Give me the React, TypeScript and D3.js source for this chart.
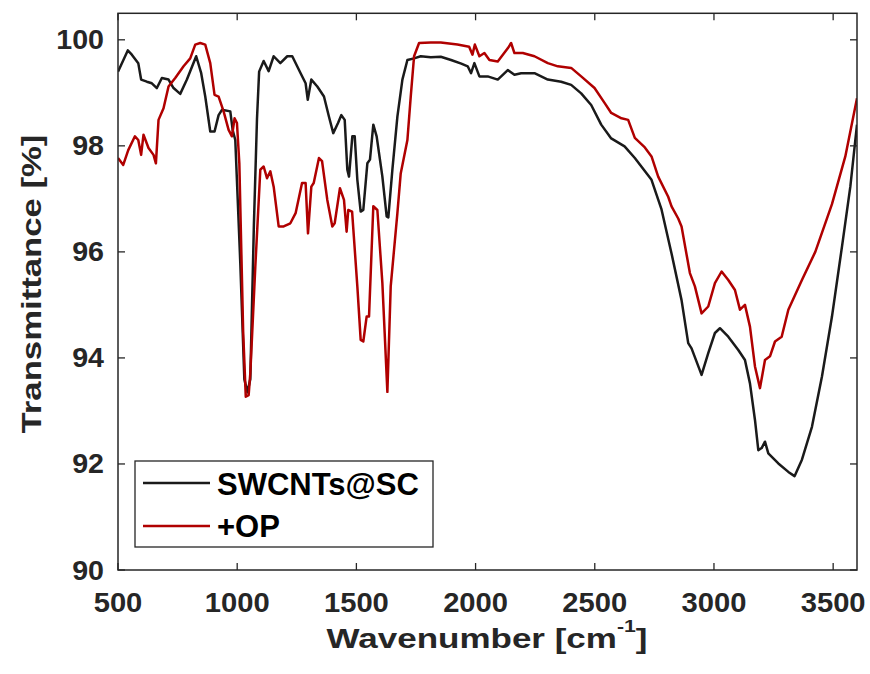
import React from "react";
import * as d3 from "d3";

const blackWave = [500, 541, 558, 585, 597, 621, 642, 663, 684, 712, 733, 761, 789, 828, 849, 866, 887, 905, 922, 936, 971, 981, 992, 1013, 1030, 1043, 1055, 1070, 1083, 1092, 1111, 1132, 1153, 1181, 1210, 1231, 1266, 1287, 1296, 1311, 1336, 1364, 1385, 1403, 1423, 1437, 1451, 1462, 1469, 1483, 1493, 1504, 1518, 1529, 1546, 1557, 1571, 1585, 1609, 1627, 1634, 1651, 1672, 1693, 1714, 1742, 1770, 1812, 1854, 1897, 1940, 1967, 1981, 1995, 2016, 2051, 2093, 2135, 2163, 2191, 2247, 2303, 2359, 2401, 2443, 2485, 2527, 2569, 2625, 2668, 2738, 2780, 2822, 2864, 2892, 2906, 2948, 2976, 3004, 3025, 3060, 3102, 3130, 3151, 3172, 3186, 3200, 3214, 3228, 3270, 3312, 3338, 3369, 3411, 3453, 3495, 3537, 3572, 3600];
const blackT = [99.40, 99.80, 99.72, 99.56, 99.25, 99.21, 99.18, 99.09, 99.28, 99.25, 99.09, 98.98, 99.25, 99.69, 99.37, 98.93, 98.27, 98.27, 98.58, 98.68, 98.65, 98.30, 98.11, 95.79, 93.6, 93.35, 93.6, 96.5, 98.5, 99.4, 99.60, 99.41, 99.69, 99.56, 99.69, 99.69, 99.37, 99.18, 98.87, 99.25, 99.12, 98.93, 98.55, 98.24, 98.43, 98.58, 98.49, 97.55, 97.42, 98.18, 98.18, 97.36, 96.76, 96.79, 97.67, 97.74, 98.40, 98.18, 97.42, 96.67, 96.65, 97.55, 98.55, 99.25, 99.62, 99.65, 99.69, 99.67, 99.68, 99.62, 99.55, 99.50, 99.37, 99.56, 99.31, 99.31, 99.25, 99.43, 99.34, 99.37, 99.37, 99.25, 99.21, 99.15, 98.99, 98.77, 98.40, 98.14, 97.99, 97.77, 97.36, 96.80, 95.97, 95.09, 94.28, 94.18, 93.68, 94.09, 94.47, 94.56, 94.40, 94.15, 93.96, 93.52, 92.83, 92.26, 92.30, 92.42, 92.20, 92.01, 91.85, 91.77, 92.08, 92.70, 93.65, 94.78, 96.10, 97.23, 98.40];

const redWave = [500, 522, 543, 571, 585, 597, 607, 628, 649, 659, 670, 691, 712, 740, 775, 803, 824, 845, 866, 887, 905, 922, 943, 964, 978, 989, 999, 1009, 1025, 1036, 1048, 1055, 1076, 1097, 1111, 1125, 1139, 1153, 1174, 1195, 1223, 1245, 1272, 1287, 1297, 1311, 1321, 1343, 1356, 1378, 1399, 1409, 1431, 1448, 1459, 1466, 1482, 1504, 1518, 1529, 1543, 1553, 1571, 1588, 1609, 1630, 1644, 1672, 1686, 1714, 1728, 1742, 1763, 1812, 1854, 1924, 1973, 1987, 1997, 2016, 2037, 2058, 2093, 2135, 2149, 2163, 2198, 2247, 2303, 2345, 2401, 2443, 2499, 2541, 2569, 2612, 2640, 2668, 2710, 2738, 2766, 2808, 2822, 2850, 2864, 2899, 2920, 2948, 2976, 3004, 3032, 3060, 3088, 3109, 3130, 3151, 3172, 3193, 3214, 3235, 3256, 3284, 3312, 3369, 3425, 3495, 3551, 3600];
const redT = [97.77, 97.64, 97.92, 98.18, 98.11, 97.83, 98.21, 97.96, 97.83, 97.67, 98.49, 98.71, 99.12, 99.28, 99.50, 99.65, 99.91, 99.94, 99.91, 99.56, 98.96, 98.93, 98.65, 98.30, 98.18, 98.52, 98.43, 97.67, 94.5, 93.27, 93.30, 93.71, 95.72, 97.55, 97.61, 97.39, 97.52, 97.23, 96.48, 96.48, 96.54, 96.73, 97.30, 97.30, 96.35, 97.23, 97.30, 97.77, 97.71, 96.98, 96.48, 96.54, 97.20, 96.98, 96.38, 96.79, 96.76, 95.35, 94.34, 94.31, 94.78, 94.78, 96.86, 96.79, 95.41, 93.36, 95.35, 96.73, 97.48, 98.11, 98.93, 99.69, 99.94, 99.95, 99.95, 99.91, 99.87, 99.72, 99.91, 99.69, 99.75, 99.62, 99.59, 99.84, 99.94, 99.75, 99.75, 99.69, 99.56, 99.50, 99.47, 99.31, 99.09, 98.81, 98.62, 98.52, 98.49, 98.15, 97.97, 97.80, 97.42, 97.04, 96.86, 96.63, 96.48, 95.60, 95.35, 94.84, 94.97, 95.41, 95.63, 95.47, 95.28, 94.91, 95.00, 94.59, 93.84, 93.43, 93.96, 94.03, 94.31, 94.40, 94.91, 95.47, 96.0, 96.9, 97.8, 98.9];

const xTicks = [500, 1000, 1500, 2000, 2500, 3000, 3500];
const yTicks = [90, 92, 94, 96, 98, 100];
const seriesNames = ["SWCNTs@SC", "+OP"];
const seriesColors = ["#1a1a1a", "#b00000"];

const L = 118, R = 857, T = 13.3, B = 570;
const FONT = "'Liberation Sans', Arial, Helvetica, sans-serif";
const AX = "#262626";

export default function App() {
  const x = d3.scaleLinear().domain([500, 3600]).range([L, R]);
  const y = d3.scaleLinear().domain([90, 100.5]).range([B, T]);
  const line = d3
    .line<[number, number]>()
    .x((d) => x(d[0]))
    .y((d) => y(d[1]));
  const black = blackWave.map((w, i) => [w, blackT[i]] as [number, number]);
  const red = redWave.map((w, i) => [w, redT[i]] as [number, number]);
  const tick = 7;
  return (
    <svg width={870} height={674} style={{ position: "absolute", left: 0, top: 0, background: "#fff" }}>
      <defs>
        <clipPath id="plot">
          <rect x={L} y={T} width={R - L} height={B - T} />
        </clipPath>
      </defs>
      <rect x={0} y={0} width={870} height={674} fill="#fff" />
      <g clipPath="url(#plot)" fill="none" strokeWidth={2.5} strokeLinejoin="round">
        <path d={line(black) || ""} stroke={seriesColors[0]} />
        <path d={line(red) || ""} stroke={seriesColors[1]} />
      </g>
      {/* frame */}
      <rect x={L} y={T} width={R - L} height={B - T} fill="none" stroke={AX} strokeWidth={1.5} />
      {xTicks.map((t) => (
        <g key={"xt" + t}>
          <line x1={x(t)} x2={x(t)} y1={B} y2={B - tick} stroke={AX} strokeWidth={1.3} />
          <line x1={x(t)} x2={x(t)} y1={T} y2={T + tick} stroke={AX} strokeWidth={1.3} />
          <text
            transform={`translate(${x(t)},612) scale(1.08,1)`}
            textAnchor="middle"
            fontFamily={FONT}
            fontWeight="bold"
            fontSize={27}
            fill={AX}
          >
            {t}
          </text>
        </g>
      ))}
      {yTicks.map((t) => (
        <g key={"yt" + t}>
          <line x1={L} x2={L + tick} y1={y(t)} y2={y(t)} stroke={AX} strokeWidth={1.3} />
          <line x1={R} x2={R - tick} y1={y(t)} y2={y(t)} stroke={AX} strokeWidth={1.3} />
          <text
            transform={`translate(104,${y(t) + 9.5}) scale(1.06,1)`}
            textAnchor="end"
            fontFamily={FONT}
            fontWeight="bold"
            fontSize={27}
            fill={AX}
          >
            {t}
          </text>
        </g>
      ))}
      {/* axis labels */}
      <text
        transform="translate(41,284) rotate(-90) scale(1.24,1)"
        textAnchor="middle"
        fontFamily={FONT}
        fontWeight="bold"
        fontSize={28}
        fill={AX}
      >
        Transmittance [%]
      </text>
      <text
        transform="translate(487,648) scale(1.25,1)"
        textAnchor="middle"
        fontFamily={FONT}
        fontWeight="bold"
        fontSize={28}
        fill={AX}
      >
        Wavenumber [cm
        <tspan fontSize={17} dy={-16}>-1</tspan>
        <tspan dy={16}>]</tspan>
      </text>
      {/* legend */}
      <rect x={135} y={461} width={298} height={86} fill="#fff" stroke={AX} strokeWidth={1.3} />
      {seriesNames.map((n, i) => (
        <g key={n}>
          <line x1={143} x2={210} y1={483 + i * 43} y2={483 + i * 43} stroke={seriesColors[i]} strokeWidth={2.5} />
          <text x={217} y={495 + i * 42} fontFamily={FONT} fontWeight="bold" fontSize={31} fill="#000">
            {n}
          </text>
        </g>
      ))}
    </svg>
  );
}
